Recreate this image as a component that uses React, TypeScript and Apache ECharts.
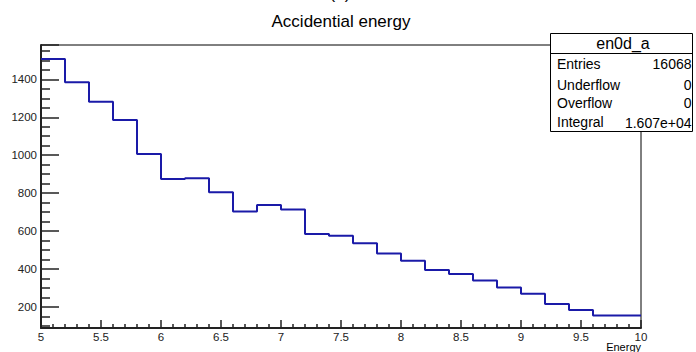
import React, { useEffect, useRef } from "react";
import * as echarts from "echarts";

// Histogram "en0d_a": bin lower edges and contents
const binLowEdges = [
  5.0, 5.2, 5.4, 5.6, 5.8, 6.0, 6.2, 6.4, 6.6, 6.8,
  7.0, 7.2, 7.4, 7.6, 7.8, 8.0, 8.2, 8.4, 8.6, 8.8,
  9.0, 9.2, 9.4, 9.6, 9.8,
];
const xUpperEdge = 10.0;
const binCounts = [
  1507, 1384, 1282, 1185, 1007, 874, 878, 805, 703, 738,
  714, 585, 575, 536, 482, 443, 395, 374, 339, 302,
  269, 216, 184, 155, 155,
];

const statLabels = ["Entries", "Underflow", "Overflow", "Integral"];
const statValues = ["16068", "0", "0", "1.607e+04"];

const FONT = "Liberation Sans, Arial, Helvetica, sans-serif";

export default function App() {
  const ref = useRef<HTMLDivElement>(null);

  useEffect(() => {
    if (!ref.current) return;
    const chart = echarts.init(ref.current, undefined, { renderer: "svg" });

    const stepData: number[][] = binCounts.map((c, i) => [binLowEdges[i], c]);
    stepData.push([xUpperEdge, binCounts[binCounts.length - 1]]);

    const rowY = [64, 84.5, 103, 121.5];

    const statGraphics: any[] = [
      {
        type: "rect",
        shape: { x: 550.5, y: 33.5, width: 142, height: 98 },
        style: { fill: "#fff", stroke: "#000", lineWidth: 1 },
        z: 100,
      },
      {
        type: "line",
        shape: { x1: 550.5, y1: 53.5, x2: 692.5, y2: 53.5 },
        style: { stroke: "#000", lineWidth: 1 },
        z: 101,
      },
      {
        type: "text",
        style: {
          text: "en0d_a",
          x: 623,
          y: 43.5,
          align: "center",
          verticalAlign: "middle",
          fontSize: 16,
          fontFamily: FONT,
          fill: "#000",
        },
        z: 102,
      },
    ];
    statLabels.forEach((lab, i) => {
      statGraphics.push({
        type: "text",
        style: {
          text: lab,
          x: 557,
          y: rowY[i],
          align: "left",
          verticalAlign: "middle",
          fontSize: 14,
          fontFamily: FONT,
          fill: "#000",
        },
        z: 102,
      });
      statGraphics.push({
        type: "text",
        style: {
          text: statValues[i],
          x: 691.5,
          y: rowY[i] + (i === 3 ? 1 : 0),
          align: "right",
          verticalAlign: "middle",
          fontSize: 14,
          fontFamily: FONT,
          fill: "#000",
        },
        z: 102,
      });
    });

    chart.setOption({
      animation: false,
      backgroundColor: "#fff",
      textStyle: { fontFamily: FONT },
      grid: {
        left: 41,
        right: 55,
        top: 45,
        bottom: 24,
        show: true,
        borderColor: "#000",
        borderWidth: 1,
        containLabel: false,
      },
      xAxis: {
        type: "value",
        min: 5,
        max: 10,
        interval: 0.5,
        axisLine: { show: true, onZero: false, lineStyle: { color: "#222", width: 2 } },
        axisTick: { show: true, inside: true, length: 8, lineStyle: { color: "#222", width: 1.5 } },
        minorTick: { show: true, splitNumber: 5, length: 4, lineStyle: { color: "#222", width: 1.5 } },
        splitLine: { show: false },
        axisLabel: {
          color: "#222",
          fontSize: 11.5,
          fontFamily: FONT,
          margin: 3,
          formatter: (v: number) => String(v),
        },
      },
      yAxis: {
        type: "value",
        min: 89,
        max: 1581,
        splitNumber: 7,
        minInterval: 200,
        maxInterval: 200,
        axisLine: { show: true, onZero: false, lineStyle: { color: "#222", width: 2 } },
        axisTick: { show: true, inside: true, length: 18, lineStyle: { color: "#222", width: 1.5 } },
        minorTick: { show: true, splitNumber: 4, length: 9, lineStyle: { color: "#222", width: 1.5 } },
        splitLine: { show: false },
        axisLabel: {
          color: "#222",
          fontSize: 11.5,
          fontFamily: FONT,
          margin: 4,
          showMinLabel: false,
          showMaxLabel: false,
          formatter: (v: number) => String(v),
        },
      },
      series: [
        {
          type: "line",
          step: "end",
          data: stepData,
          showSymbol: false,
          symbol: "none",
          lineStyle: { color: "#1a1aa8", width: 2 },
          clip: true,
          z: 5,
        },
      ],
      graphic: [
        {
          type: "text",
          style: {
            text: "(a)",
            x: 340,
            y: -7,
            align: "center",
            verticalAlign: "middle",
            fontSize: 17,
            fontFamily: FONT,
            fill: "#000",
          },
        },
        {
          type: "text",
          style: {
            text: "Accidential energy",
            x: 341,
            y: 21,
            align: "center",
            verticalAlign: "middle",
            fontSize: 17,
            fontFamily: FONT,
            fill: "#000",
          },
        },
        {
          type: "text",
          style: {
            text: "Energy",
            x: 641,
            y: 347,
            align: "right",
            verticalAlign: "middle",
            fontSize: 11,
            fontFamily: FONT,
            fill: "#000",
          },
        },
        ...statGraphics,
      ],
    });

    return () => chart.dispose();
  }, []);

  return (
    <div
      ref={ref}
      style={{ position: "fixed", left: 0, top: 0, width: 696, height: 352, background: "#fff" }}
    />
  );
}
